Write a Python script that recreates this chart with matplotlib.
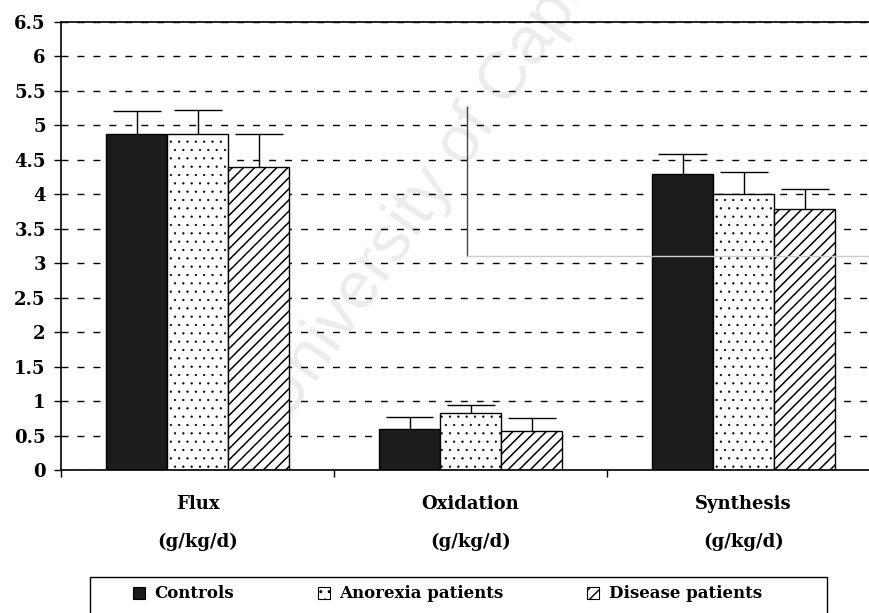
import matplotlib
matplotlib.use("Agg")
import matplotlib.pyplot as plt
from matplotlib.patches import Patch, Rectangle
from matplotlib.lines import Line2D
import numpy as np

categories = ["Flux", "Oxidation", "Synthesis"]
unit_label = "(g/kg/d)"
series_names = ["Controls", "Anorexia patients", "Disease patients"]

controls = [4.88, 0.60, 4.29]
anorexia = [4.88, 0.83, 4.01]
disease = [4.40, 0.57, 3.79]

controls_err = [0.33, 0.17, 0.29]
anorexia_err = [0.34, 0.11, 0.31]
disease_err = [0.48, 0.18, 0.29]

y_ticks = [0, 0.5, 1, 1.5, 2, 2.5, 3, 3.5, 4, 4.5, 5, 5.5, 6, 6.5]

W, H = 870, 613
fig = plt.figure(figsize=(W / 100, H / 100), dpi=100)

# axes box in pixels: left 61, right 880 (runs past the edge), top 22, bottom 470
ax = fig.add_axes([61 / W, 1 - 470 / H, (880 - 61) / W, (470 - 22) / H])

styles = [
    dict(facecolor="#1c1c1c", hatch=None),
    dict(facecolor="white", hatch=".."),
    dict(facecolor="white", hatch="///"),
]
hatch_lw = [1.0, 0.4, 1.1]
values = [controls, anorexia, disease]
errors = [controls_err, anorexia_err, disease_err]

bw = 61 / 273
cap = 24 / 273
x = np.arange(len(categories)) + 0.5
for j in range(3):
    xs = x + (j - 1) * bw
    with plt.rc_context({"hatch.linewidth": hatch_lw[j]}):
        ax.bar(xs, values[j], width=bw, edgecolor="black", linewidth=1.0,
               zorder=2, **styles[j])
    tops = np.array(values[j]) + np.array(errors[j])
    ax.vlines(xs, values[j], tops, color="black", linewidth=1.0, zorder=3)
    ax.hlines(tops, xs - cap, xs + cap, color="black", linewidth=1.0, zorder=3)

ax.set_xlim(0, 3)
ax.set_ylim(0, 6.5)
ax.set_yticks(y_ticks)
ax.set_yticklabels([f"{t:g}" for t in y_ticks],
                   fontfamily="DejaVu Serif", fontweight="bold", fontsize=13)
ax.set_xticks([0, 1, 2, 3])
ax.set_xticklabels([])
ax.tick_params(axis="both", direction="out", length=5, width=1, color="black")
ax.tick_params(axis="y", pad=6)

ax.set_axisbelow(True)
ax.yaxis.grid(True, color="black", linewidth=1.0, linestyle=(0, (5, 6.5)))
for side in ["left", "bottom", "top"]:
    ax.spines[side].set_color("black")
    ax.spines[side].set_linewidth(1.2)
ax.spines["right"].set_visible(False)

for i, name in enumerate(categories):
    ax.text(x[i], -0.075, name, transform=ax.get_xaxis_transform(),
            ha="center", va="center", fontfamily="DejaVu Serif",
            fontweight="bold", fontsize=13)
    ax.text(x[i], -0.16, unit_label, transform=ax.get_xaxis_transform(),
            ha="center", va="center", fontfamily="DejaVu Serif",
            fontweight="bold", fontsize=13)

# faint watermark across the plot area
ax.text(478 / W, 1 - 120 / H, "University of Cape Town", transform=fig.transFigure,
        rotation=55, ha="center", va="center", fontsize=48,
        fontfamily="Liberation Sans", color="#ececec", zorder=0.3, clip_on=False)

# stray lines across the plot
fig.add_artist(Line2D([467 / W, 467 / W], [1 - 107 / H, 1 - 256 / H],
                      color="#444444", linewidth=1.0))
fig.add_artist(Line2D([467 / W, 1.0], [1 - 256 / H, 1 - 256 / H],
                      color="#cccccc", linewidth=1.0))

# legend, boxed by hand so the frame can run off the bottom
handles = []
for j, s in enumerate(styles):
    with plt.rc_context({"hatch.linewidth": hatch_lw[j]}):
        handles.append(Patch(edgecolor="black", linewidth=0.8, **s))
fig.legend(handles, series_names, loc="center left",
           bbox_to_anchor=(133 / W, 1 - 594 / H), ncol=3, frameon=False,
           prop=dict(family="DejaVu Serif", weight="bold", size=12),
           handlelength=0.75, handleheight=0.75, handletextpad=0.55,
           columnspacing=5.0, borderpad=0, borderaxespad=0)
fig.add_artist(Rectangle((90 / W, -0.02), (827 - 90) / W, (1 - 577 / H) + 0.02,
                         transform=fig.transFigure, fill=False,
                         edgecolor="black", linewidth=1.0))

fig.savefig("out.png", dpi=100)
